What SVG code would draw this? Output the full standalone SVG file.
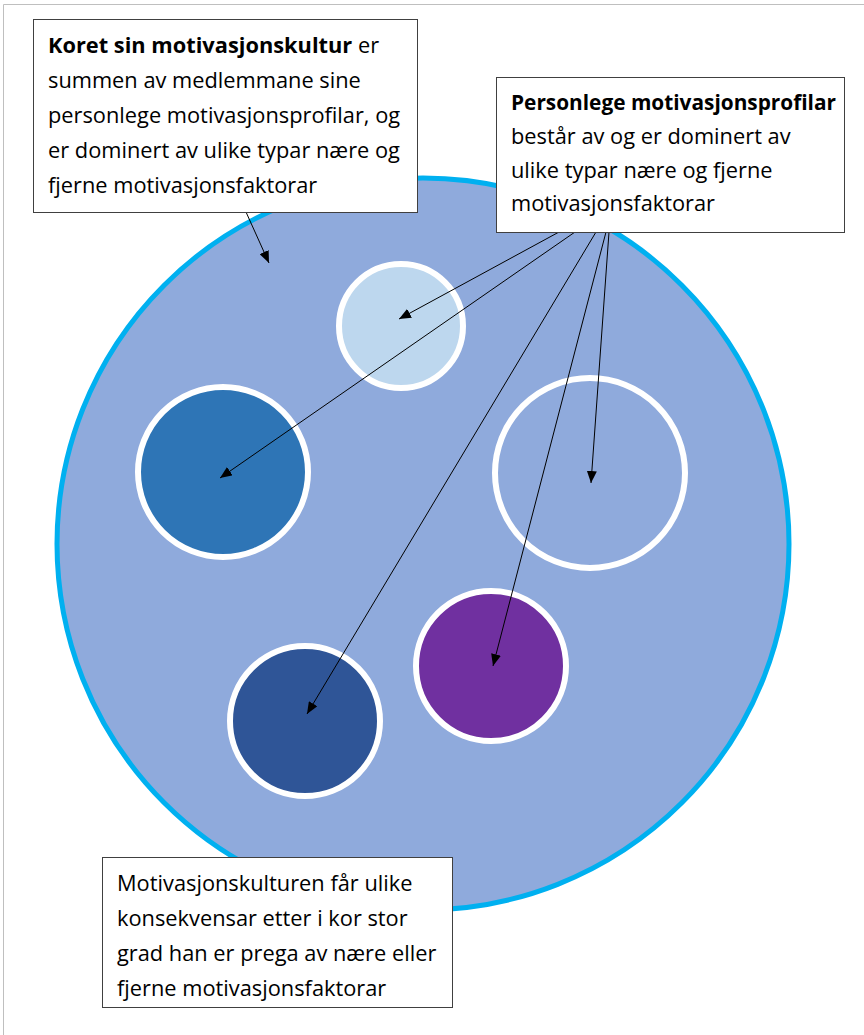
<svg xmlns="http://www.w3.org/2000/svg" width="864" height="1035" viewBox="0 0 864 1035">
<style>
.t{font-family:"Open Sans","Noto Sans",sans-serif;font-size:21.8px;fill:#000}
.b{font-weight:bold}
.box{fill:#fff;stroke:#404040;stroke-width:1}
.ring{stroke:#fff;stroke-width:6}
.c{stroke:#000;stroke-width:1;fill:none;marker-end:url(#ah)}
</style>
<defs>
<marker id="ah" markerUnits="userSpaceOnUse" viewBox="0 0 12 10" refX="12" refY="5" markerWidth="12" markerHeight="10" orient="auto">
<path d="M0,0 L12,5 L0,10 Z" fill="#000"/>
</marker>
</defs>
<rect x="0" y="0" width="864" height="1035" fill="#fff"/>
<path d="M3.5,1035 V4.5 H864" fill="none" stroke="#bfbfbf" stroke-width="1"/>
<g id="culture">
<circle cx="423" cy="544" r="366" fill="#8FAADC" stroke="#00B0F0" stroke-width="5"/>
</g>
<g id="profile-light"><circle class="ring" cx="401" cy="326" r="62" fill="#BDD7EE"/></g>
<g id="profile-blue"><circle class="ring" cx="223" cy="472" r="85" fill="#2E75B6"/></g>
<g id="profile-empty"><circle class="ring" cx="590" cy="473" r="95" fill="#8FAADC"/></g>
<g id="profile-purple"><circle class="ring" cx="491" cy="666" r="75" fill="#7030A0"/></g>
<g id="profile-dark"><circle class="ring" cx="305" cy="721" r="75" fill="#2F5597"/></g>
<g id="connectors">
<line class="c" x1="246" y1="212" x2="269" y2="263"/>
<line class="c" x1="559" y1="232" x2="399" y2="319"/>
<line class="c" x1="575" y1="232" x2="220" y2="478"/>
<line class="c" x1="596" y1="232" x2="307" y2="714"/>
<line class="c" x1="606" y1="232" x2="493" y2="666"/>
<line class="c" x1="609" y1="232" x2="591" y2="483"/>
</g>
<g id="box-culture">
<rect class="box" x="33.5" y="19.5" width="384" height="193"/>
<text class="t" x="48" y="53"><tspan class="b">Koret sin motivasjonskultur</tspan> er</text>
<text class="t" x="48" y="88">summen av medlemmane sine</text>
<text class="t" x="48" y="123">personlege motivasjonsprofilar, og</text>
<text class="t" x="48" y="158">er dominert av ulike typar nære og</text>
<text class="t" x="48" y="193">fjerne motivasjonsfaktorar</text>
</g>
<g id="box-profile">
<rect class="box" x="496.5" y="77.5" width="348" height="155"/>
<text class="t b" x="511" y="110" textLength="325" lengthAdjust="spacingAndGlyphs">Personlege motivasjonsprofilar</text>
<text class="t" x="511" y="144">består av og er dominert av</text>
<text class="t" x="511" y="178">ulike typar nære og fjerne</text>
<text class="t" x="511" y="211">motivasjonsfaktorar</text>
</g>
<g id="box-consequence">
<rect class="box" x="102.5" y="857.5" width="350" height="150"/>
<text class="t" x="117" y="891">Motivasjonskulturen får ulike</text>
<text class="t" x="117" y="926">konsekvensar etter i kor stor</text>
<text class="t" x="117" y="961">grad han er prega av nære eller</text>
<text class="t" x="117" y="996">fjerne motivasjonsfaktorar</text>
</g>
</svg>
